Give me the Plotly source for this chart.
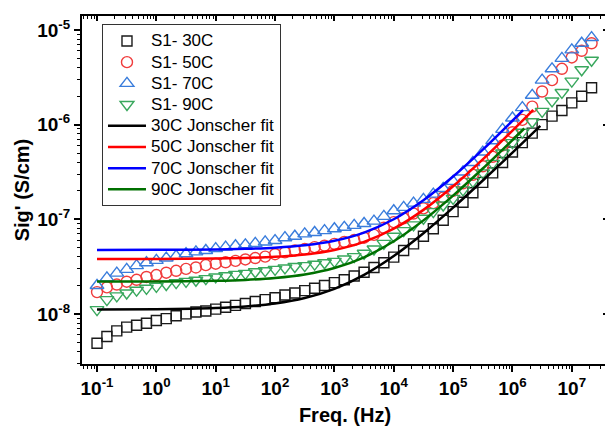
import plotly.graph_objects as go

# ---------------- data ----------------
freq = [0.1, 0.1468, 0.2154, 0.3162, 0.4642, 0.6813,
        1, 1.468, 2.154, 3.162, 4.642, 6.813,
        10, 14.68, 21.54, 31.62, 46.42, 68.13,
        100, 146.8, 215.4, 316.2, 464.2, 681.3,
        1e3, 1468, 2154, 3162, 4642, 6813,
        1e4, 1.468e4, 2.154e4, 3.162e4, 4.642e4, 6.813e4,
        1e5, 1.468e5, 2.154e5, 3.162e5, 4.642e5, 6.813e5,
        1e6, 1.468e6, 2.154e6, 3.162e6, 4.642e6, 6.813e6,
        1e7, 1.468e7, 2.154e7]

# log10 of Sig' (S/cm)
log_s1_30C = [-8.31, -8.24, -8.18, -8.14, -8.12, -8.10, -8.07, -8.05, -8.02, -8.00,
              -7.98, -7.97, -7.95, -7.93, -7.91, -7.89, -7.87, -7.85, -7.83, -7.80,
              -7.78, -7.755, -7.73, -7.70, -7.67, -7.64, -7.60, -7.56, -7.51, -7.46,
              -7.40, -7.33, -7.26, -7.18, -7.10, -7.01, -6.92, -6.82, -6.72, -6.61,
              -6.51, -6.40, -6.29, -6.19, -6.09, -6.00, -5.91, -5.85, -5.77, -5.70, -5.61]
log_s1_50C = [-7.77, -7.72, -7.69, -7.66, -7.64, -7.61, -7.59, -7.565, -7.545, -7.525,
              -7.51, -7.485, -7.47, -7.455, -7.44, -7.425, -7.41, -7.395, -7.37, -7.35,
              -7.33, -7.315, -7.295, -7.28, -7.26, -7.24, -7.22, -7.195, -7.165, -7.09,
              -7.03, -6.99, -6.94, -6.885, -6.83, -6.77, -6.70, -6.62, -6.53, -6.44,
              -6.34, -6.22, -6.08, -5.95, -5.81, -5.65, -5.53, -5.41, -5.29, -5.22, -5.14]
log_s1_70C = [-7.70, -7.62, -7.57, -7.53, -7.49, -7.46, -7.435, -7.41, -7.39, -7.365,
              -7.345, -7.33, -7.31, -7.295, -7.28, -7.27, -7.255, -7.24, -7.225, -7.195,
              -7.18, -7.155, -7.14, -7.12, -7.10, -7.085, -7.065, -7.045, -7.02, -6.97,
              -6.91, -6.875, -6.83, -6.79, -6.735, -6.675, -6.60, -6.50, -6.40, -6.29,
              -6.17, -6.05, -5.93, -5.82, -5.69, -5.53, -5.41, -5.30, -5.21, -5.14, -5.08]
log_s1_90C = [-7.955, -7.85, -7.81, -7.78, -7.75, -7.73, -7.71, -7.69, -7.67, -7.657,
              -7.645, -7.628, -7.61, -7.598, -7.583, -7.572, -7.555, -7.544, -7.53, -7.515,
              -7.50, -7.49, -7.475, -7.46, -7.445, -7.42, -7.395, -7.36, -7.315, -7.255,
              -7.18, -7.12, -7.06, -6.99, -6.92, -6.85, -6.78, -6.69, -6.60, -6.51,
              -6.41, -6.30, -6.19, -6.08, -5.97, -5.86, -5.75, -5.66, -5.54, -5.42, -5.32]

# Jonscher fit curves
fit_freq_base = [0.1, 1, 10, 31.62, 100, 316.2, 1e3, 3162, 1e4, 31623, 1e5, 316228, 1e6]
fit_end_30C, fit_end_50C, fit_end_70C, fit_end_90C = 2.95e6, 2.24e6, 1.51e6, 1.58e6
log_fit_30C = [-7.954, -7.951, -7.938, -7.922, -7.890, -7.833, -7.736, -7.588, -7.389,
               -7.148, -6.878, -6.591, -6.296, -6.014]
log_fit_50C = [-7.420, -7.419, -7.415, -7.409, -7.397, -7.373, -7.325, -7.239, -7.100,
               -6.901, -6.651, -6.367, -6.063, -5.843]
log_fit_70C = [-7.324, -7.323, -7.319, -7.313, -7.301, -7.276, -7.228, -7.141, -7.000,
               -6.799, -6.549, -6.264, -5.959, -5.847]
log_fit_90C = [-7.659, -7.657, -7.650, -7.641, -7.621, -7.584, -7.516, -7.402, -7.233,
               -7.012, -6.750, -6.464, -6.163, -6.041]

x_tickvals = [1e-1, 1e0, 1e1, 1e2, 1e3, 1e4, 1e5, 1e6, 1e7]
x_ticktext = ["10<sup>-1</sup>", "10<sup>0</sup>", "10<sup>1</sup>", "10<sup>2</sup>",
              "10<sup>3</sup>", "10<sup>4</sup>", "10<sup>5</sup>", "10<sup>6</sup>",
              "10<sup>7</sup>"]
y_tickvals = [1e-8, 1e-7, 1e-6, 1e-5]
y_ticktext = ["10<sup>-8</sup>", "10<sup>-7</sup>", "10<sup>-6</sup>", "10<sup>-5</sup>"]

names_pts = ["S1- 30C", "S1- 50C", "S1- 70C", "S1- 90C"]
names_fit = ["30C Jonscher fit", "50C Jonscher fit", "70C Jonscher fit", "90C Jonscher fit"]

# ---------------- figure ----------------
FONT = "Arial, Liberation Sans, Helvetica, sans-serif"

def unlog(vals):
    return [10 ** v for v in vals]

def legend_label(text):
    return '<span style="font-size:17px">' + text + '</span>'

fig = go.Figure()

pt_series = [log_s1_30C, log_s1_50C, log_s1_70C, log_s1_90C]
pt_symbols = ["square-open", "circle-open", "triangle-up-open", "triangle-down-open"]
pt_colors = ["#1a1a1a", "#f03c3c", "#3a7ddc", "#3aa85e"]
pt_sizes = [10, 11, 12, 12]
for name, s, sym, col, sz in zip(names_pts, pt_series, pt_symbols, pt_colors, pt_sizes):
    fig.add_trace(go.Scatter(
        x=freq, y=unlog(s), mode="markers", name=legend_label(name),
        marker=dict(symbol=sym, size=sz, color=col, line=dict(width=1.4, color=col)),
    ))

fit_series = [log_fit_30C, log_fit_50C, log_fit_70C, log_fit_90C]
fit_ends = [fit_end_30C, fit_end_50C, fit_end_70C, fit_end_90C]
fit_colors = ["#000000", "#ff0000", "#0000ff", "#007000"]
for name, s, end, col in zip(names_fit, fit_series, fit_ends, fit_colors):
    fig.add_trace(go.Scatter(
        x=fit_freq_base + [end], y=unlog(s), mode="lines", name=legend_label(name),
        line=dict(color=col, width=2.5, shape="spline", smoothing=0.8),
    ))

# empty trace so the mirrored tick axes (top / right) are drawn
fig.add_trace(go.Scatter(x=[], y=[], xaxis="x2", yaxis="y2",
                         showlegend=False, hoverinfo="skip"))

minor_x = [m * 10 ** e for e in range(-2, 8) for m in range(2, 10)]
minor_y = [m * 10 ** e for e in range(-9, -4) for m in range(2, 10)]

xr = [-1.253, 7.61]
yr = [-8.53, -4.852]

common_x = dict(type="log", range=xr, showgrid=False, zeroline=False, automargin=False)
common_y = dict(type="log", range=yr, showgrid=False, zeroline=False, automargin=False)

# the page body adds an 8 px offset, so the figure is 8 px smaller on each axis
fig.update_layout(
    width=605, height=422,
    margin=dict(l=74, r=5, t=8, b=66),
    paper_bgcolor="white", plot_bgcolor="white",
    font=dict(family=FONT, color="black"),
    showlegend=True,
    legend=dict(
        x=0.038, y=0.976, xanchor="left", yanchor="top",
        bgcolor="rgba(255,255,255,1)", bordercolor="#333333", borderwidth=1,
        font=dict(family=FONT, size=14, color="black"),
        tracegroupgap=0, itemwidth=38,
    ),
    xaxis=dict(
        **common_x,
        showline=True, linecolor="black", linewidth=2, mirror=True,
        ticks="outside", ticklen=6, tickwidth=1.5, tickcolor="black",
        tickmode="array", tickvals=x_tickvals, ticktext=x_ticktext,
        tickfont=dict(family=FONT, size=19, color="black", weight="bold"),
        minor=dict(ticks="outside", ticklen=3, tickwidth=1, tickcolor="black",
                   tickmode="array", tickvals=minor_x, showgrid=False),
        title=dict(text="Freq. (Hz)", font=dict(family=FONT, size=20, color="black", weight="bold"),
                   standoff=10),
    ),
    yaxis=dict(
        **common_y,
        showline=True, linecolor="black", linewidth=2, mirror=True,
        ticks="outside", ticklen=6, tickwidth=1.5, tickcolor="black",
        tickmode="array", tickvals=y_tickvals, ticktext=y_ticktext,
        tickfont=dict(family=FONT, size=19, color="black", weight="bold"),
        minor=dict(ticks="outside", ticklen=3, tickwidth=1, tickcolor="black",
                   tickmode="array", tickvals=minor_y, showgrid=False),
        title=dict(text="Sig' (S/cm)", font=dict(family=FONT, size=20, color="black", weight="bold"),
                   standoff=2),
    ),
    xaxis2=dict(
        **common_x, overlaying="x", side="top", anchor="y",
        ticks="inside", ticklen=5, tickwidth=1.5, tickcolor="black",
        tickmode="array", tickvals=x_tickvals, showticklabels=False,
        minor=dict(ticks="inside", ticklen=3, tickwidth=1, tickcolor="black",
                   tickmode="array", tickvals=minor_x, showgrid=False),
    ),
    yaxis2=dict(
        **common_y, overlaying="y", side="right", anchor="x",
        ticks="inside", ticklen=5, tickwidth=1.5, tickcolor="black",
        tickmode="array", tickvals=y_tickvals, showticklabels=False,
        minor=dict(ticks="inside", ticklen=3, tickwidth=1, tickcolor="black",
                   tickmode="array", tickvals=minor_y, showgrid=False),
    ),
)

fig.write_html("out.html")
